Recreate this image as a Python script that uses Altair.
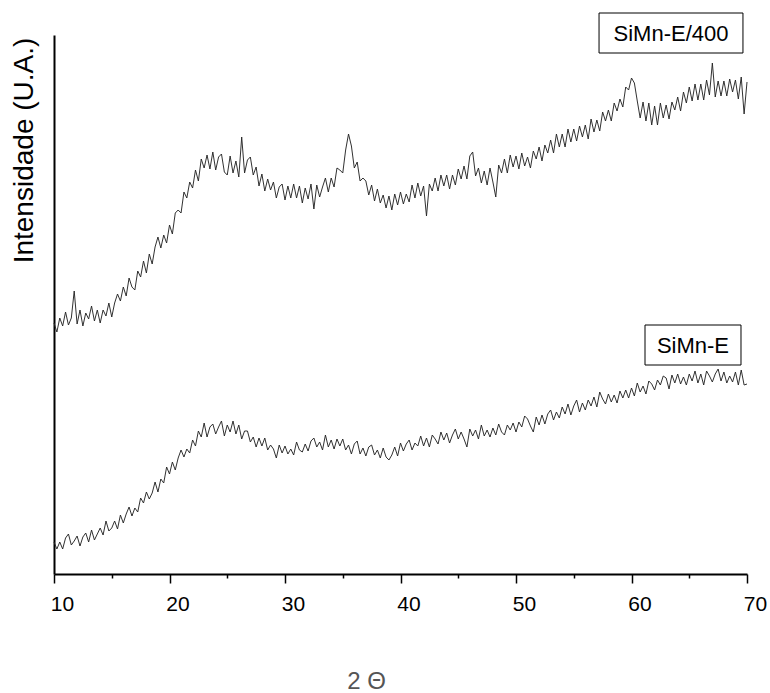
import numpy as np
import pandas as pd
import altair as alt

# 2-theta sampling grid (degrees)
two_theta = [round(10 + 0.25 * i, 2) for i in range(241)]

# SiMn-E/400 (upper pattern), arbitrary intensity units
simn_e400 = [
    251, 242, 256, 248, 262, 249, 256, 283,
    250, 264, 248, 261, 255, 268, 253, 264,
    251, 264, 258, 271, 257, 271, 280, 273,
    287, 278, 296, 287, 284, 303, 297, 313,
    301, 320, 310, 327, 337, 326, 339, 331,
    349, 340, 361, 364, 361, 382, 376, 392,
    386, 404, 393, 415, 406, 419, 405, 422,
    404, 417, 420, 402, 399, 418, 401, 413,
    397, 437, 401, 414, 417, 399, 407, 388,
    400, 383, 395, 384, 392, 376, 387, 390,
    374, 388, 376, 390, 376, 388, 371, 386,
    375, 390, 365, 389, 377, 387, 396, 382,
    396, 387, 406, 404, 401, 424, 440, 428,
    406, 412, 393, 396, 393, 379, 389, 373,
    385, 371, 379, 366, 378, 364, 380, 369,
    382, 370, 380, 372, 389, 376, 391, 378,
    388, 358, 390, 383, 396, 383, 399, 388,
    399, 385, 399, 389, 405, 395, 408, 395,
    418, 422, 398, 406, 391, 403, 389, 406,
    392, 377, 409, 401, 415, 401, 419, 407,
    418, 405, 421, 408, 417, 406, 423, 415,
    427, 413, 429, 421, 434, 421, 440, 427,
    440, 427, 445, 432, 445, 433, 448, 437,
    449, 435, 455, 442, 454, 443, 462, 453,
    464, 453, 471, 463, 475, 467, 487, 484,
    496, 491, 473, 456, 472, 453, 471, 449,
    468, 449, 471, 456, 469, 455, 472, 464,
    477, 463, 482, 471, 487, 473, 490, 474,
    490, 474, 494, 479, 511, 477, 493, 478,
    493, 478, 495, 482, 494, 475, 497, 460,
    492,
]

# SiMn-E (lower pattern)
simn_e = [
    32, 25, 32, 25, 36, 40, 29, 33,
    38, 28, 37, 41, 32, 44, 34, 40,
    46, 39, 53, 43, 46, 53, 45, 59,
    51, 60, 67, 58, 66, 62, 76, 71,
    82, 75, 81, 92, 82, 95, 91, 107,
    100, 112, 104, 116, 124, 117, 125, 121,
    134, 128, 143, 137, 151, 137, 147, 150,
    140, 147, 153, 138, 149, 142, 153, 140,
    149, 135, 143, 143, 132, 137, 127, 136,
    128, 136, 124, 129, 125, 116, 129, 121,
    128, 120, 125, 119, 132, 124, 122, 130,
    123, 133, 136, 127, 132, 124, 139, 127,
    134, 125, 135, 128, 135, 124, 129, 120,
    130, 133, 120, 126, 118, 127, 129, 119,
    124, 116, 126, 117, 114, 119, 127, 118,
    131, 123, 130, 134, 124, 131, 128, 138,
    128, 136, 127, 139, 135, 130, 142, 134,
    141, 131, 139, 145, 135, 142, 135, 127,
    145, 138, 144, 135, 149, 138, 144, 137,
    146, 139, 150, 142, 139, 149, 144, 151,
    142, 152, 147, 158, 155, 148, 142, 157,
    149, 159, 150, 160, 164, 154, 162, 156,
    167, 160, 170, 159, 168, 174, 162, 171,
    164, 174, 168, 177, 167, 182, 175, 170,
    180, 172, 179, 171, 183, 176, 184, 176,
    186, 178, 191, 182, 188, 180, 193, 190,
    184, 194, 189, 198, 196, 185, 199, 191,
    200, 190, 197, 189, 200, 193, 203, 191,
    200, 189, 203, 198, 192, 200, 205, 193,
    202, 191, 198, 192, 202, 189, 204, 189,
    190,
]

series_names = ["SiMn-E/400", "SiMn-E"]
major_ticks = [10, 20, 30, 40, 50, 60, 70]
minor_ticks = [15, 25, 35, 45, 55, 65]

df = pd.concat([
    pd.DataFrame({"two_theta": two_theta, "intensity": simn_e400, "series": series_names[0]}),
    pd.DataFrame({"two_theta": two_theta, "intensity": simn_e, "series": series_names[1]}),
])

FONT = "Liberation Sans"
xscale = alt.Scale(domain=[10, 70], nice=False, zero=False)
yscale = alt.Scale(domain=[0, 539], nice=False, zero=False)

yaxis = alt.Axis(grid=False, ticks=False, labels=False,
                 domainColor="black", domainWidth=2,
                 title="Intensidade (U.A.)", titleFontSize=28,
                 titleFont=FONT, titleFontWeight="normal",
                 titleColor="black", titleAngle=-90,
                 titleX=-22, titleY=115, titleAlign="center",
                 titleBaseline="alphabetic")

lines = alt.Chart(df).mark_line(strokeWidth=0.95, color="#262626").encode(
    x=alt.X("two_theta:Q", scale=xscale,
            axis=alt.Axis(values=major_ticks, orient="bottom", grid=False,
                          domainColor="black", domainWidth=2,
                          tickColor="black", tickWidth=1.5, tickSize=9,
                          labelColor="black", labelFontSize=21, labelFont=FONT,
                          labelPadding=10, labelOffset=8, labelFlush=False,
                          title="2 Θ", titleFontSize=24, titleFont=FONT,
                          titleFontWeight="normal", titleColor="#555555",
                          titleX=312, titleY=114, titleAlign="center",
                          titleBaseline="alphabetic")),
    y=alt.Y("intensity:Q", scale=yscale, axis=yaxis),
    detail="series:N",
)

minor = alt.Chart(df).mark_point(opacity=0).encode(
    x=alt.X("two_theta:Q", scale=xscale,
            axis=alt.Axis(values=minor_ticks, orient="bottom", grid=False,
                          domain=False, labels=False, title=None,
                          tickColor="black", tickWidth=1.5, tickSize=4)),
)

annot = pd.DataFrame({
    "label": series_names,
    "tx": [63.42, 65.32],
    "ty": [533, 221],
    "x1": [57.19, 61.17],
    "x2": [69.65, 69.48],
    "y1": [561, 249],
    "y2": [521, 209],
})

boxes = alt.Chart(annot).mark_rect(fill="white", stroke="black", strokeWidth=1).encode(
    x=alt.X("x1:Q", scale=xscale, axis=None),
    x2="x2:Q",
    y=alt.Y("y1:Q", scale=yscale, axis=yaxis),
    y2="y2:Q",
)

texts = alt.Chart(annot).mark_text(fontSize=22, font=FONT, color="black",
                                   align="center", baseline="alphabetic").encode(
    x=alt.X("tx:Q", scale=xscale, axis=None),
    y=alt.Y("ty:Q", scale=yscale, axis=yaxis),
    text="label:N",
)

chart = alt.layer(lines, minor, boxes, texts).resolve_axis(
    x="independent"
).properties(
    width=693, height=539,
    padding={"left": 54, "top": 35, "right": 23, "bottom": 119},
    autosize=alt.AutoSizeParams(type="none"),
).configure(
    font=FONT, background="white"
).configure_view(stroke=None)

chart.save("out.html", embed_options={"renderer": "svg", "actions": False})
